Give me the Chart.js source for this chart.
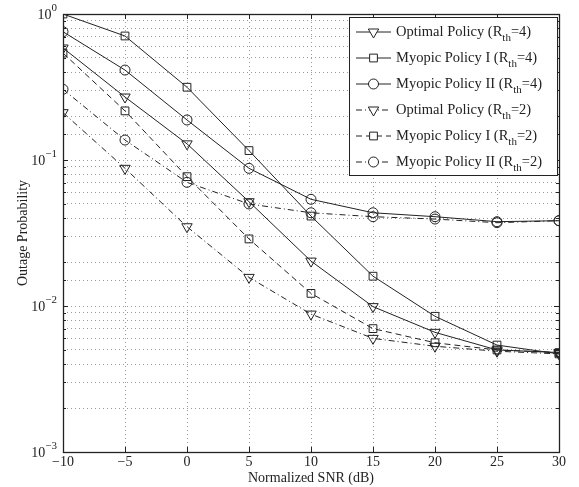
<!DOCTYPE html>
<html>
<head>
<meta charset="utf-8">
<script src="https://cdn.jsdelivr.net/npm/chart.js@4.4.0/dist/chart.umd.min.js"></script>
<style>
  html, body { margin: 0; padding: 0; background: #fff; }
  #wrap { width: 579px; height: 487px; }
</style>
</head>
<body>
<div id="wrap"><canvas id="outageChart"></canvas></div>
<script>
// data
const snrDb = [-10, -5, 0, 5, 10, 15, 20, 25, 30];
const optimalR4 = [0.585, 0.27, 0.129, 0.0518, 0.0203, 0.0099, 0.0066, 0.0050, 0.0048];
const myopicIR4 = [1.0, 0.707, 0.315, 0.116, 0.0413, 0.016, 0.0085, 0.0054, 0.0047];
const myopicIIR4 = [0.756, 0.413, 0.188, 0.0877, 0.0538, 0.0435, 0.0409, 0.0378, 0.0384];
const optimalR2 = [0.211, 0.0877, 0.0349, 0.0157, 0.0088, 0.0060, 0.0053, 0.0049, 0.0047];
const myopicIR2 = [0.54, 0.217, 0.0769, 0.0288, 0.0122, 0.0070, 0.0056, 0.0050, 0.0048];
const myopicIIR2 = [0.305, 0.137, 0.0703, 0.050, 0.0435, 0.0409, 0.0394, 0.0372, 0.0384];

const policyNames = ['Optimal Policy', 'Myopic Policy I', 'Myopic Policy II',
                     'Optimal Policy', 'Myopic Policy I', 'Myopic Policy II'];
const rthValues = ['4', '4', '4', '2', '2', '2'];
const yDecades = [1, 0.1, 0.01, 0.001];
const yExponents = ['0', '\u22121', '\u22122', '\u22123'];

const FONT = "'Liberation Serif', 'Times New Roman', serif";
const INK = '#222';
const NOFILL = 'rgba(0,0,0,0)';

function toPoints(vals) {
    return snrDb.map((x, i) => ({ x: x, y: vals[i] }));
}

function makeSet(idx, vals, dash, marker) {
    return {
        label: policyNames[idx] + ' (Rth=' + rthValues[idx] + ')',
        data: toPoints(vals),
        borderColor: INK,
        borderWidth: 1,
        borderDash: dash,
        pointStyle: marker,
        pointRotation: marker === 'triangle' ? 180 : 0,
        pointRadius: marker === 'triangle' ? 6 : (marker === 'rect' ? 5.5 : 5),
        pointBorderColor: INK,
        pointBorderWidth: 1,
        pointBackgroundColor: NOFILL,
        tension: 0,
        fill: false
    };
}

const dashDot = [6, 3, 1, 3];
const dashed = [6, 4];

// frame, inner ticks, y labels and legend drawn by hand (matlab look)
const matlabFrame = {
    id: 'matlabFrame',
    afterDraw(chart) {
        const { ctx, chartArea: a, scales } = chart;
        const xs = scales.x, ys = scales.y;
        ctx.save();
        ctx.strokeStyle = INK;
        ctx.lineWidth = 1;

        // inner tick marks
        ctx.beginPath();
        snrDb.forEach(v => {
            const px = Math.round(xs.getPixelForValue(v)) + 0.5;
            ctx.moveTo(px, a.bottom); ctx.lineTo(px, a.bottom - 5);
            ctx.moveTo(px, a.top); ctx.lineTo(px, a.top + 5);
        });
        ys.ticks.forEach(t => {
            const py = Math.round(ys.getPixelForValue(t.value)) + 0.5;
            const lg = Math.log10(t.value);
            const len = Math.abs(lg - Math.round(lg)) < 1e-6 ? 5 : 3;
            ctx.moveTo(a.left, py); ctx.lineTo(a.left + len, py);
            ctx.moveTo(a.right, py); ctx.lineTo(a.right - len, py);
        });
        ctx.stroke();

        // box
        ctx.lineWidth = 1.3;
        ctx.strokeRect(Math.round(a.left) + 0.5, Math.round(a.top) + 0.5,
                       Math.round(a.right - a.left), Math.round(a.bottom - a.top));

        // y labels 10^n
        ctx.fillStyle = INK;
        ctx.textBaseline = 'middle';
        yDecades.forEach((v, i) => {
            const py = ys.getPixelForValue(v);
            ctx.font = '11px ' + FONT;
            const ew = ctx.measureText(yExponents[i]).width;
            ctx.textAlign = 'right';
            ctx.fillText(yExponents[i], a.left - 6, py - 6);
            ctx.font = '14px ' + FONT;
            ctx.fillText('10', a.left - 6 - ew, py + 1);
        });

        // legend
        const lx = 349, ly = 17, lw = 208, lh = 158;
        ctx.fillStyle = '#fff';
        ctx.fillRect(lx, ly, lw, lh);
        ctx.lineWidth = 1;
        ctx.strokeRect(lx + 0.5, ly + 0.5, lw, lh);
        chart.data.datasets.forEach((ds, i) => {
            const cy = ly + 15 + i * 26;
            ctx.strokeStyle = INK;
            ctx.lineWidth = 1;
            ctx.setLineDash(ds.borderDash || []);
            ctx.beginPath();
            ctx.moveTo(lx + 7, cy); ctx.lineTo(lx + 42, cy);
            ctx.stroke();
            ctx.setLineDash([]);
            // white under the marker, line does not show through in legend
            ctx.fillStyle = '#fff';
            Chart.helpers.drawPoint(ctx, {
                pointStyle: ds.pointStyle,
                rotation: ds.pointRotation,
                radius: ds.pointRadius,
                borderWidth: 1
            }, lx + 24.5, cy);
            ctx.fillStyle = INK;
            ctx.textAlign = 'left';
            ctx.textBaseline = 'middle';
            let tx = lx + 47;
            const head = policyNames[i] + ' (R';
            ctx.font = '14.5px ' + FONT;
            ctx.fillText(head, tx, cy);
            tx += ctx.measureText(head).width;
            ctx.font = '11px ' + FONT;
            ctx.fillText('th', tx, cy + 6);
            tx += ctx.measureText('th').width;
            ctx.font = '14.5px ' + FONT;
            ctx.fillText('=' + rthValues[i] + ')', tx, cy);
        });
        ctx.restore();
    }
};

const chartCtx = document.getElementById('outageChart');
new Chart(chartCtx, {
    type: 'line',
    data: {
        datasets: [
            makeSet(0, optimalR4, [], 'triangle'),
            makeSet(1, myopicIR4, [], 'rect'),
            makeSet(2, myopicIIR4, [], 'circle'),
            makeSet(3, optimalR2, dashDot, 'triangle'),
            makeSet(4, myopicIR2, dashed, 'rect'),
            makeSet(5, myopicIIR2, dashDot, 'circle')
        ]
    },
    options: {
        responsive: true,
        maintainAspectRatio: false,
        animation: false,
        layout: { padding: { top: 14, right: 20, left: 0, bottom: 0 } },
        plugins: {
            legend: { display: false },
            tooltip: { enabled: false }
        },
        scales: {
            x: {
                type: 'linear',
                min: -10,
                max: 30,
                afterFit: (s) => { s.height = 35; },
                ticks: {
                    stepSize: 5,
                    color: INK,
                    padding: 2,
                    font: { family: FONT, size: 14 },
                    callback: (v) => String(v).replace('-', '\u2212')
                },
                grid: { color: '#9a9a9a', lineWidth: 1, drawTicks: false },
                border: { display: false, dash: [1, 3] },
                title: {
                    display: true,
                    text: 'Normalized SNR (dB)',
                    color: INK,
                    font: { family: FONT, size: 14 },
                    padding: { top: 0, bottom: 0 }
                }
            },
            y: {
                type: 'logarithmic',
                min: 0.001,
                max: 1,
                afterFit: (s) => { s.width = 63; },
                ticks: { display: false },
                grid: { color: '#9a9a9a', lineWidth: 1, drawTicks: false },
                border: { display: false, dash: [1, 3] },
                title: {
                    display: true,
                    text: 'Outage Probability',
                    color: INK,
                    font: { family: FONT, size: 14 },
                    padding: { top: 15, bottom: 0 }
                }
            }
        }
    },
    plugins: [matlabFrame]
});
</script>
</body>
</html>
